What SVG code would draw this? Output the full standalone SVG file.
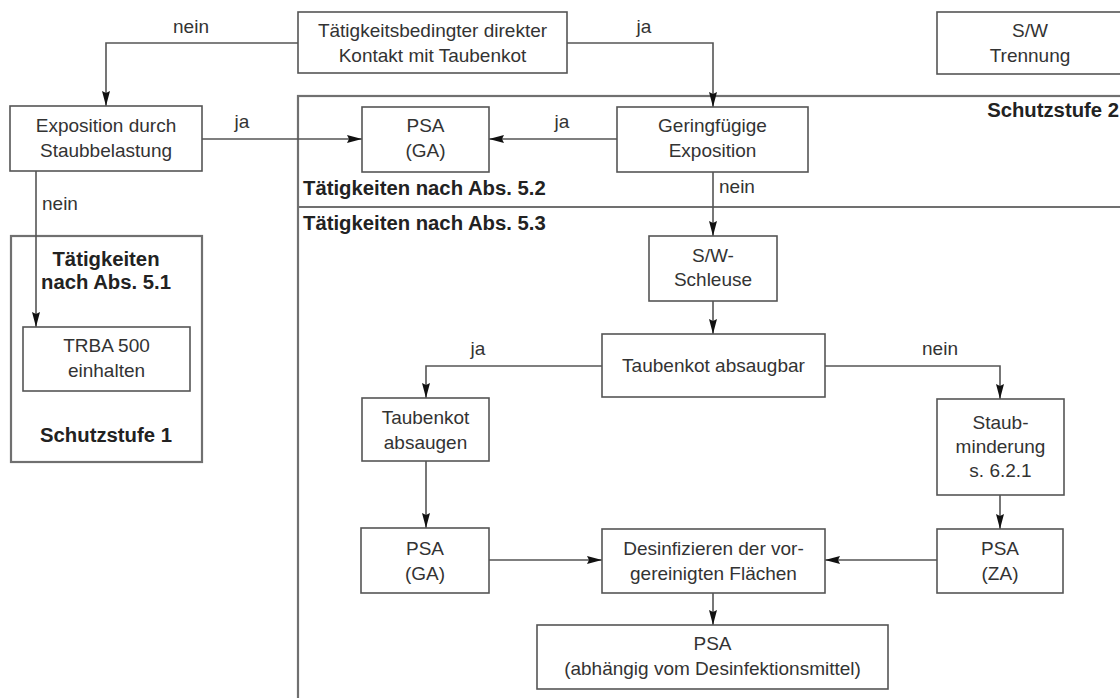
<svg xmlns="http://www.w3.org/2000/svg" width="1120" height="698" viewBox="0 0 1120 698">
<style>
.box{fill:#fff;stroke:#555;stroke-width:1.6}
.frame{fill:none;stroke:#707070;stroke-width:2.2}
.t{font-family:"Liberation Sans",Arial,sans-serif;font-size:19px;fill:#333;text-anchor:middle}
.l{font-family:"Liberation Sans",Arial,sans-serif;font-size:19px;fill:#333}
.b{font-family:"Liberation Sans",Arial,sans-serif;font-size:20.3px;font-weight:bold;fill:#222}
.c{fill:none;stroke:#555;stroke-width:1.6}
</style>
<defs>
<marker id="arr" markerUnits="userSpaceOnUse" markerWidth="16" markerHeight="9" refX="15" refY="4.5" orient="auto">
<path d="M0,0.5 L15,4.5 L0,8.5 L2,4.5 z" fill="#111"/>
</marker>
</defs>
<rect width="1120" height="698" fill="#fff"/>
<g id="frames">
<rect class="frame" x="298" y="96" width="830" height="620"/>
<line class="frame" x1="298" y1="207" x2="1125" y2="207"/>
<rect class="frame" x="11" y="236" width="191" height="226"/>
<text class="b" x="1119" y="117" text-anchor="end">Schutzstufe 2</text>
<text class="b" x="303" y="195">Tätigkeiten nach Abs. 5.2</text>
<text class="b" x="303" y="230">Tätigkeiten nach Abs. 5.3</text>
<text class="b" x="106" y="266" text-anchor="middle">Tätigkeiten</text>
<text class="b" x="106" y="289" text-anchor="middle">nach Abs. 5.1</text>
<text class="b" x="106" y="442" text-anchor="middle">Schutzstufe 1</text>
</g>
<g id="connectors">
<path class="c" d="M298,43 H106 V106" marker-end="url(#arr)"/>
<path class="c" d="M567,43 H713 V107" marker-end="url(#arr)"/>
<path class="c" d="M202,139 H362" marker-end="url(#arr)"/>
<path class="c" d="M617,139 H489" marker-end="url(#arr)"/>
<path class="c" d="M36,171 V327" marker-end="url(#arr)"/>
<path class="c" d="M713,172 V236" marker-end="url(#arr)"/>
<path class="c" d="M713,301 V334" marker-end="url(#arr)"/>
<path class="c" d="M602,366 H426 V398" marker-end="url(#arr)"/>
<path class="c" d="M825,366 H1000 V399" marker-end="url(#arr)"/>
<path class="c" d="M426,461 V528" marker-end="url(#arr)"/>
<path class="c" d="M1000,495 V529" marker-end="url(#arr)"/>
<path class="c" d="M489,560 H602" marker-end="url(#arr)"/>
<path class="c" d="M937,560 H825" marker-end="url(#arr)"/>
<path class="c" d="M713,593 V625" marker-end="url(#arr)"/>
<text class="l" x="191" y="33" text-anchor="middle">nein</text>
<text class="l" x="644" y="33" text-anchor="middle">ja</text>
<text class="l" x="242" y="128" text-anchor="middle">ja</text>
<text class="l" x="562" y="128" text-anchor="middle">ja</text>
<text class="l" x="42" y="210">nein</text>
<text class="l" x="719" y="193">nein</text>
<text class="l" x="478" y="355" text-anchor="middle">ja</text>
<text class="l" x="940" y="355" text-anchor="middle">nein</text>
</g>
<g id="n-kontakt">
<rect class="box" x="298" y="12" width="269" height="61"/>
<text class="t" x="432.5" y="37">Tätigkeitsbedingter direkter</text>
<text class="t" x="432.5" y="62">Kontakt mit Taubenkot</text>
</g>
<g id="n-trennung">
<rect class="box" x="937" y="12" width="190" height="62"/>
<text class="t" x="1030" y="37">S/W</text>
<text class="t" x="1030" y="62">Trennung</text>
</g>
<g id="n-exposition">
<rect class="box" x="10" y="106" width="192" height="65"/>
<text class="t" x="106" y="132">Exposition durch</text>
<text class="t" x="106" y="157">Staubbelastung</text>
</g>
<g id="n-psa-ga1">
<rect class="box" x="362" y="107" width="127" height="65"/>
<text class="t" x="425.5" y="132">PSA</text>
<text class="t" x="425.5" y="157">(GA)</text>
</g>
<g id="n-geringfuegig">
<rect class="box" x="617" y="107" width="191" height="65"/>
<text class="t" x="712.5" y="132">Geringfügige</text>
<text class="t" x="712.5" y="157">Exposition</text>
</g>
<g id="n-trba">
<rect class="box" x="23" y="327" width="167" height="64"/>
<text class="t" x="106.5" y="352">TRBA 500</text>
<text class="t" x="106.5" y="377">einhalten</text>
</g>
<g id="n-schleuse">
<rect class="box" x="649" y="236" width="128" height="65"/>
<text class="t" x="713" y="262">S/W-</text>
<text class="t" x="713" y="286">Schleuse</text>
</g>
<g id="n-absaugbar">
<rect class="box" x="602" y="334" width="223" height="63"/>
<text class="t" x="713.5" y="372">Taubenkot absaugbar</text>
</g>
<g id="n-absaugen">
<rect class="box" x="362" y="398" width="127" height="63"/>
<text class="t" x="425.5" y="424">Taubenkot</text>
<text class="t" x="425.5" y="449">absaugen</text>
</g>
<g id="n-staubminderung">
<rect class="box" x="937" y="399" width="127" height="96"/>
<text class="t" x="1000.5" y="429">Staub-</text>
<text class="t" x="1000.5" y="453">minderung</text>
<text class="t" x="1000.5" y="477">s. 6.2.1</text>
</g>
<g id="n-psa-ga2">
<rect class="box" x="361" y="528" width="128" height="65"/>
<text class="t" x="425" y="555">PSA</text>
<text class="t" x="425" y="580">(GA)</text>
</g>
<g id="n-desinf">
<rect class="box" x="602" y="529" width="223" height="64"/>
<text class="t" x="713.5" y="555">Desinfizieren der vor-</text>
<text class="t" x="713.5" y="580">gereinigten Flächen</text>
</g>
<g id="n-psa-za">
<rect class="box" x="937" y="529" width="126" height="64"/>
<text class="t" x="1000" y="555">PSA</text>
<text class="t" x="1000" y="580">(ZA)</text>
</g>
<g id="n-psa-desinf">
<rect class="box" x="537" y="625" width="351" height="64"/>
<text class="t" x="712.5" y="650">PSA</text>
<text class="t" x="712.5" y="675">(abhängig vom Desinfektionsmittel)</text>
</g>
</svg>
